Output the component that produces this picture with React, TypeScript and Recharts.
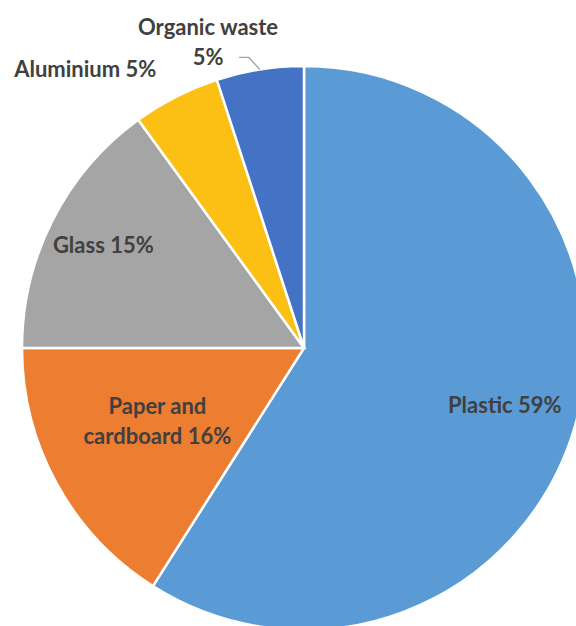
import React from "react";
import { PieChart, Pie, Cell } from "recharts";

const categories = ["Plastic", "Paper and cardboard", "Glass", "Aluminium", "Organic waste"];
const shares = [59, 16, 15, 5, 5];
const colors = ["#5B9BD5", "#ED7D31", "#A5A5A5", "#FBC013", "#4472C4"];

// label text lines per category
const labelLines: string[][] = [
  ["Plastic 59%"],
  ["Paper and", "cardboard 16%"],
  ["Glass 15%"],
  ["Aluminium 5%"],
  ["Organic waste", "5%"],
];

// label placement: radius factor and angle shift relative to slice mid angle
const labelLayout = [
  { k: 0.74, shift: 0.4 },
  { k: 0.58, shift: -2.5 },
  { k: 0.8, shift: -0.2 },
  { k: 1.26, shift: 11 },
  { k: 1.138, shift: 8.4 },
];

const data = categories.map((name, i) => ({ name, value: shares[i] }));

const RAD = Math.PI / 180;
const FONT = "Lato, 'Open Sans', sans-serif";

const renderLabel = (props: any) => {
  const { cx, cy, midAngle, outerRadius, index } = props;
  const lay = labelLayout[index];
  const a = (midAngle + lay.shift) * RAD;
  const x = cx + outerRadius * lay.k * Math.cos(a);
  const y = cy - outerRadius * lay.k * Math.sin(a);
  const lines = labelLines[index];
  const lh = 30;
  const y0 = y - ((lines.length - 1) * lh) / 2;
  let leader = null;
  if (index === 4) {
    const ex = cx + outerRadius * Math.cos(midAngle * RAD);
    const ey = cy - outerRadius * Math.sin(midAngle * RAD);
    leader = (
      <polyline
        points={`${ex},${ey} ${ex - 11},${ey - 12} ${ex - 21},${ey - 12}`}
        fill="none"
        stroke="#A6A6A6"
        strokeWidth={1.3}
      />
    );
  }
  return (
    <g>
      {leader}
      {lines.map((t, j) => (
        <text
          key={j}
          x={x}
          y={y0 + j * lh}
          textAnchor="middle"
          dominantBaseline="central"
          fill="#404040"
          fontFamily={FONT}
          fontWeight={700}
          fontSize={22}
        >
          {t}
        </text>
      ))}
    </g>
  );
};

export default function App() {
  return (
    <div style={{ position: "absolute", left: 0, top: 0, width: 576, height: 626, background: "#fff" }}>
      <PieChart width={576} height={626} margin={{ top: 0, right: 0, bottom: 0, left: 0 }}>
        <Pie
          data={data}
          dataKey="value"
          nameKey="name"
          cx={304}
          cy={348}
          outerRadius={282}
          startAngle={90}
          endAngle={-270}
          stroke="#ffffff"
          strokeWidth={2.5}
          label={renderLabel}
          labelLine={false}
          isAnimationActive={false}
        >
          {data.map((d, i) => (
            <Cell key={d.name} fill={colors[i]} />
          ))}
        </Pie>
      </PieChart>
    </div>
  );
}
